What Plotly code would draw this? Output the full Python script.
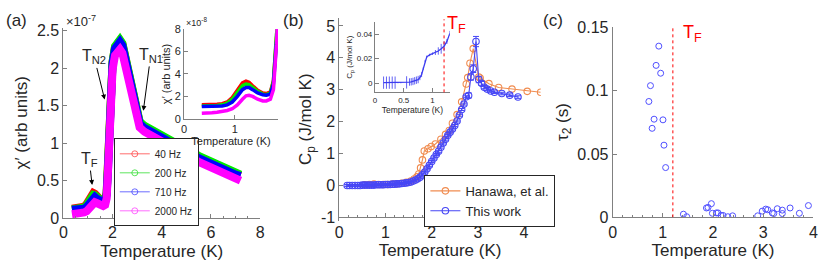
import plotly.graph_objects as go

# ---------------- Panel (a): chi' vs T (values in units of 1e-8) ----------------
T_a = [0.35, 0.45, 0.55, 0.65, 0.75, 0.85, 0.95, 1.05, 1.15, 1.22, 1.28, 1.35, 1.45, 1.55, 1.62,
       1.70, 1.76, 1.82, 1.88, 1.94, 2.0, 2.1, 2.2, 2.3, 2.4, 2.5, 2.6, 2.7, 2.8, 2.9, 3.0,
       3.1, 3.3, 3.6, 4.0, 4.5, 5.0, 5.5, 6.0, 6.5, 7.0, 7.2]
chi_40 = [1.25, 1.25, 1.25, 1.3, 1.35, 1.5, 1.9, 2.6, 3.2, 3.35, 3.25, 2.95, 2.55, 2.3, 2.25,
          2.4, 3.4, 7.2, 13.5, 18.5, 20.8, 22.8, 23.6, 23.7, 23.2, 21.7, 20.0, 18.2, 16.4, 14.8, 13.3,
          12.8, 12.2, 11.6, 10.9, 10.0, 9.1, 8.2, 7.4, 6.6, 5.9, 5.7]
chi_200 = [1.15, 1.15, 1.15, 1.2, 1.25, 1.4, 1.75, 2.4, 2.95, 3.1, 3.05, 2.8, 2.45, 2.2, 2.15,
           2.3, 3.3, 7.5, 13.6, 18.6, 20.9, 22.9, 23.7, 23.8, 23.3, 21.8, 20.1, 18.3, 16.5, 14.9, 13.4,
           12.9, 12.3, 11.7, 11.0, 10.1, 9.2, 8.3, 7.5, 6.7, 6.0, 5.8]
chi_710 = [1.1, 1.1, 1.1, 1.1, 1.15, 1.25, 1.5, 2.0, 2.6, 2.8, 2.8, 2.6, 2.3, 2.15, 2.1,
           2.2, 3.1, 6.8, 13.2, 18.3, 20.6, 22.6, 23.4, 23.5, 23.0, 21.5, 19.8, 18.0, 16.2, 14.6, 13.1,
           12.6, 12.0, 11.4, 10.7, 9.8, 8.9, 8.0, 7.2, 6.5, 5.8, 5.6]
chi_2000 = [0.5, 0.5, 0.55, 0.6, 0.65, 0.75, 0.9, 1.25, 1.75, 2.05, 2.1, 2.0, 1.75, 1.6, 1.6,
            1.75, 2.6, 6.6, 12.6, 17.6, 19.8, 21.7, 22.4, 22.5, 22.0, 20.6, 18.9, 17.2, 15.5, 14.0, 12.6,
            12.1, 11.5, 10.9, 10.2, 9.3, 8.4, 7.5, 6.7, 6.0, 5.2, 5.0]
freq_labels = ["40 Hz", "200 Hz", "710 Hz", "2000 Hz"]
freq_colors = ["rgb(255,0,0)", "rgb(0,235,0)", "rgb(0,0,255)", "rgb(255,0,255)"]
legend_colors = ["rgba(255,60,60,0.75)", "rgba(40,220,40,0.75)", "rgba(60,60,255,0.75)", "rgba(255,60,255,0.75)"]

# ---------------- Panel (b): heat capacity ----------------
T_han = [0.55, 0.65, 0.75, 0.85, 0.95, 1.05, 1.15, 1.25, 1.35, 1.45, 1.55, 1.62, 1.68, 1.72,
         1.76, 1.80, 1.84, 1.92, 1.99, 2.08, 2.20, 2.30, 2.38, 2.45, 2.55, 2.65, 2.75, 2.78, 2.83,
         2.90, 3.02, 3.05, 3.24, 3.45, 3.74, 4.07, 4.36]
Cp_han = [0.02, 0.03, 0.04, 0.03, 0.03, 0.03, 0.04, 0.05, 0.07, 0.10, 0.14, 0.20, 0.27, 0.36,
          0.55, 0.80, 1.08, 1.15, 1.22, 1.30, 1.45, 1.60, 1.72, 1.95, 2.22, 2.62, 3.18, 3.38, 3.83,
          4.29, 3.40, 3.37, 3.19, 3.07, 3.02, 2.95, 2.92]
T_this = [0.17, 0.22, 0.28, 0.34, 0.40, 0.45, 0.50, 0.55, 0.60, 0.65, 0.70, 0.75, 0.80, 0.85,
          0.90, 0.95, 1.00, 1.05, 1.10, 1.15, 1.20, 1.25, 1.30, 1.35, 1.40, 1.45, 1.50, 1.55,
          1.60, 1.65, 1.70, 1.75, 1.80, 1.85, 1.90, 1.95, 2.00, 2.05, 2.10, 2.15, 2.20, 2.25,
          2.30, 2.35, 2.40, 2.45, 2.50, 2.55, 2.60, 2.65, 2.70, 2.75, 2.80, 2.85, 2.90, 2.96,
          3.02, 3.08, 3.14, 3.20, 3.28, 3.36, 3.52, 3.69, 3.87]
Cp_this = [0.00, 0.00, 0.00, 0.00, 0.00, 0.00, 0.01, 0.01, 0.01, 0.01, 0.01, 0.01, 0.02, 0.02,
           0.02, 0.02, 0.03, 0.03, 0.03, 0.04, 0.04, 0.05, 0.05, 0.06, 0.07, 0.08, 0.09, 0.11,
           0.14, 0.17, 0.21, 0.26, 0.33, 0.42, 0.52, 0.63, 0.75, 0.86, 0.97, 1.07, 1.20, 1.33,
           1.45, 1.57, 1.67, 1.77, 1.88, 2.02, 2.20, 2.38, 2.55, 2.78, 2.82, 3.40, 3.66, 4.51,
           3.32, 3.20, 3.08, 3.02, 2.96, 2.92, 2.88, 2.83, 2.77]
Cp_this_err = [0.03] * 52 + [0.08, 0.10, 0.12, 0.16, 0.10, 0.06, 0.05, 0.05, 0.04, 0.04, 0.04, 0.04, 0.04]
Cp_ticks = [-1, 0, 1, 2, 3, 4, 5]

# inset (b): low-temperature heat capacity
T_ins = [0.15, 0.20, 0.25, 0.30, 0.35, 0.40, 0.45, 0.55, 0.60, 0.63, 0.66, 0.69, 0.72, 0.75,
         0.78, 0.81, 0.84, 0.87, 0.90, 0.95, 1.00, 1.05, 1.10, 1.15, 1.20, 1.25, 1.30]
Cp_ins = [0.0005, 0.0005, 0.0005, 0.0005, 0.0005, 0.0005, 0.0005, 0.0007, 0.0010, 0.0012, 0.0015,
          0.0020, 0.0025, 0.0030, 0.0045, 0.0070, 0.0120, 0.0180, 0.0215, 0.0230, 0.0240, 0.0250,
          0.0262, 0.0280, 0.0300, 0.0340, 0.0405]
Cp_ins_err = [0.005, 0.005, 0.005, 0.005, 0.005, 0.0005, 0.0005, 0.005, 0.003, 0.003, 0.003,
              0.003, 0.003, 0.003, 0.002, 0.002, 0.001, 0.001, 0.001, 0.001, 0.001, 0.002,
              0.003, 0.004, 0.004, 0.002, 0.002]

# ---------------- Panel (c): tau_2 vs T ----------------
T_tau = [0.92, 0.866, 0.957, 0.754, 0.722, 0.826, 1.003, 0.787, 1.023, 1.056, 1.41, 1.476,
         1.869, 1.90, 1.967, 1.987, 2.066, 2.10, 2.16, 2.20, 2.295, 2.39, 2.89, 2.98, 3.05,
         3.09, 3.18, 3.21, 3.28, 3.38, 3.38, 3.535, 3.72, 3.90]
tau2 = [0.1352, 0.120, 0.1138, 0.104, 0.0915, 0.0775, 0.077, 0.0703, 0.057, 0.0393, 0.0025,
        0.0005, 0.0074, 0.0078, 0.0108, 0.0032, 0.0035, 0.0035, 0.0015, 0.0015, 0.0005, 0.0012,
        0.0012, 0.0049, 0.0065, 0.006, 0.0035, 0.003, 0.0068, 0.0057, 0.003, 0.0074, 0.0032, 0.0093]

T_F = 1.2

W, H = 830, 272
FONT = "Liberation Sans, Arial, sans-serif"
TXT = "#262626"
AX = "#808080"


def px_x(v):
    return v / W


def px_y(v):
    return 1 - v / H


fig = go.Figure()

# (a) main bands
for vals, col in zip([chi_40, chi_200, chi_710, chi_2000], freq_colors):
    fig.add_trace(go.Scatter(x=T_a, y=[v / 10 for v in vals], mode="lines",
                             line=dict(color=col, width=8), showlegend=False,
                             xaxis="x", yaxis="y", hoverinfo="skip"))
# (a) legend entries
for lab, col in zip(freq_labels, legend_colors):
    fig.add_trace(go.Scatter(x=[None], y=[None], mode="lines+markers", name=lab,
                             line=dict(color=col, width=1),
                             marker=dict(symbol="circle-open", size=6, color=col, line=dict(width=1)),
                             xaxis="x", yaxis="y", legend="legend"))
# (a) inset
for vals, col in zip([chi_40, chi_200, chi_710, chi_2000], freq_colors):
    fig.add_trace(go.Scatter(x=T_a, y=vals, mode="lines",
                             line=dict(color=col, width=3.5), showlegend=False,
                             xaxis="x2", yaxis="y2", hoverinfo="skip"))

# (b) main
fig.add_trace(go.Scatter(x=T_han, y=Cp_han, mode="lines+markers", name="Hanawa, et al.",
                         line=dict(color="rgb(240,140,80)", width=1.1),
                         marker=dict(symbol="circle-open", size=6.5, color="rgb(240,140,80)", line=dict(width=1.1)),
                         xaxis="x3", yaxis="y3", legend="legend2"))
fig.add_trace(go.Scatter(x=T_this, y=Cp_this, mode="lines+markers", name="This work",
                         line=dict(color="rgb(70,70,245)", width=1.1),
                         marker=dict(symbol="circle-open", size=6.5, color="rgb(70,70,245)", line=dict(width=1.1)),
                         error_y=dict(type="data", array=Cp_this_err, color="rgb(70,70,245)", thickness=1, width=3),
                         xaxis="x3", yaxis="y3", legend="legend2"))
# (b) inset
fig.add_trace(go.Scatter(x=T_ins, y=Cp_ins, mode="lines", showlegend=False,
                         line=dict(color="rgb(60,60,240)", width=1.3),
                         error_y=dict(type="data", array=Cp_ins_err, color="rgba(60,60,240,0.8)", thickness=1, width=0),
                         xaxis="x4", yaxis="y4"))

# (c)
fig.add_trace(go.Scatter(x=T_tau, y=tau2, mode="markers", showlegend=False,
                         marker=dict(symbol="circle-open", size=6, color="rgb(80,80,255)", line=dict(width=1)),
                         xaxis="x5", yaxis="y5"))


def axis(domain, rng, anchor, dtick=None, tickvals=None, size=16, title=None, tsize=17,
         minor=None, standoff=None):
    d = dict(domain=domain, range=rng, anchor=anchor, showline=True, linecolor=AX, linewidth=1,
             ticks="inside", ticklen=4, tickcolor=AX, showgrid=False, zeroline=False,
             ticklabeloverflow="allow",
             tickfont=dict(family=FONT, size=size, color=TXT), mirror=False)
    if dtick is not None:
        d["dtick"] = dtick
        d["tick0"] = 0
    if tickvals is not None:
        d["tickmode"] = "array"
        d["tickvals"] = tickvals
        d["ticktext"] = [("%g" % v) for v in tickvals]
    if title is not None:
        d["title"] = dict(text=title, font=dict(family=FONT, size=tsize, color=TXT))
        if standoff is not None:
            d["title"]["standoff"] = standoff
    if minor is not None:
        d["minor"] = dict(dtick=minor, ticks="inside", ticklen=2, tickcolor=AX, showgrid=False)
    return d


# (b) y axis: range padded on both ends so that the end labels are kept; x axis pinned at Cp = -1
CPY = 34.03  # px per unit
yb_bottom = 223.3 + 0.1 * CPY
yb_top = 223.3 - 6.25 * CPY
xaxis3 = axis([px_x(339), px_x(542.7)], [0, 4.364], "free", dtick=1, title="Temperature (K)", minor=0.2, standoff=4)
xaxis3["position"] = px_y(223.3)

layout = dict(
    width=W, height=H, autosize=False,
    margin=dict(l=0, r=0, t=0, b=0),
    paper_bgcolor="white", plot_bgcolor="rgba(0,0,0,0)",
    font=dict(family=FONT, color=TXT),
    xaxis=axis([px_x(60), px_x(259)], [0, 8], "y", dtick=2, title="Temperature (K)", minor=0.5, standoff=4),
    yaxis=axis([px_y(224), px_y(21)], [0, 2.54], "x", dtick=0.5, title="χ′ (arb units)", standoff=4),
    xaxis2=axis([px_x(182), px_x(277)], [0, 1.85], "y2", dtick=1, size=11, title="Temperature (K)", tsize=11, standoff=2),
    yaxis2=axis([px_y(118.3), px_y(22.3)], [0, 8], "x2", dtick=2, size=11, title="χ′ (arb units)", tsize=11, standoff=1),
    xaxis3=xaxis3,
    yaxis3=axis([px_y(yb_bottom), px_y(yb_top)], [-1.1, 5.25], "x3", tickvals=Cp_ticks,
                title="C<sub>p</sub> (J/mol K)", standoff=4),
    xaxis4=axis([px_x(375), px_x(450.7)], [0, 1.3], "y4", dtick=0.5, size=8, title="Temperature (K)", tsize=8.5, standoff=2),
    yaxis4=axis([px_y(90), px_y(15)], [-0.0074, 0.0497], "x4", tickvals=[0, 0.02, 0.04], size=8,
                title="C<sub>p</sub> (J/mol K)", tsize=8, standoff=2),
    xaxis5=axis([px_x(615.3), px_x(818.3)], [0, 4], "y5", dtick=1, title="Temperature (K)", minor=0.2, standoff=4),
    yaxis5=axis([px_y(223.3), px_y(20)], [0, 0.1505], "x5", tickvals=[0, 0.05, 0.1, 0.15], title="τ<sub>2</sub> (s)", standoff=4),
    legend=dict(x=px_x(111), y=px_y(139), xanchor="left", yanchor="top", bgcolor="white",
                bordercolor="#262626", borderwidth=1, font=dict(family=FONT, size=10, color=TXT),
                tracegroupgap=0, itemwidth=30),
    legend2=dict(x=px_x(425), y=px_y(178), xanchor="left", yanchor="top", bgcolor="white",
                 bordercolor="#262626", borderwidth=1, font=dict(family=FONT, size=13, color=TXT),
                 tracegroupgap=0, itemwidth=30),
    showlegend=True,
)
fig.update_layout(**layout)

ann = []
# panel letters
for txt, x in [("(a)", 0), ("(b)", 280), ("(c)", 543)]:
    ann.append(dict(text=txt, x=px_x(x), y=px_y(1), xref="paper", yref="paper", xanchor="left", yanchor="top",
                    showarrow=False, font=dict(family=FONT, size=17, color=TXT)))
# multipliers
ann.append(dict(text="×10<sup>-7</sup>", x=px_x(61), y=px_y(24), xref="paper", yref="paper",
                xanchor="left", yanchor="bottom", showarrow=False, font=dict(family=FONT, size=13, color=TXT)))
ann.append(dict(text="×10<sup>-8</sup>", x=px_x(182), y=px_y(23), xref="paper", yref="paper",
                xanchor="left", yanchor="bottom", showarrow=False, font=dict(family=FONT, size=9, color=TXT)))
# transition labels with arrows in (a): text at tail, arrow to head
for txt, tx, ty, hx, hy in [
    ("T<sub>F</sub>", 1.05, 0.78, 1.17, 0.44),
    ("T<sub>N2</sub>", 1.25, 2.15, 1.68, 1.58),
    ("T<sub>N1</sub>", 3.55, 2.17, 3.25, 1.43),
]:
    ann.append(dict(text=txt, x=hx, y=hy, ax=tx, ay=ty, xref="x", yref="y", axref="x", ayref="y",
                    showarrow=True, arrowhead=2, arrowsize=1, arrowwidth=1, arrowcolor="black",
                    font=dict(family=FONT, size=16, color=TXT)))
# T_F labels
ann.append(dict(text="T<sub>F</sub>", x=px_x(446), y=px_y(3), xref="paper", yref="paper", xanchor="left",
                yanchor="top", showarrow=False, font=dict(family=FONT, size=18, color="red")))
ann.append(dict(text="T<sub>F</sub>", x=px_x(684), y=px_y(13), xref="paper", yref="paper", xanchor="left",
                yanchor="top", showarrow=False, font=dict(family=FONT, size=18, color="red")))
fig.update_layout(annotations=ann)

fig.add_shape(type="line", xref="x4", yref="paper", x0=T_F, x1=T_F, y0=px_y(90), y1=px_y(12),
              line=dict(color="red", width=1, dash="dot"))
fig.add_shape(type="line", xref="x5", yref="y5", x0=T_F, x1=T_F, y0=0, y1=0.15,
              line=dict(color="red", width=1, dash="dot"))

fig.write_html("out.html", config={"displayModeBar": False},
               post_script="document.body.style.margin='0px';document.body.style.overflow='hidden';")
